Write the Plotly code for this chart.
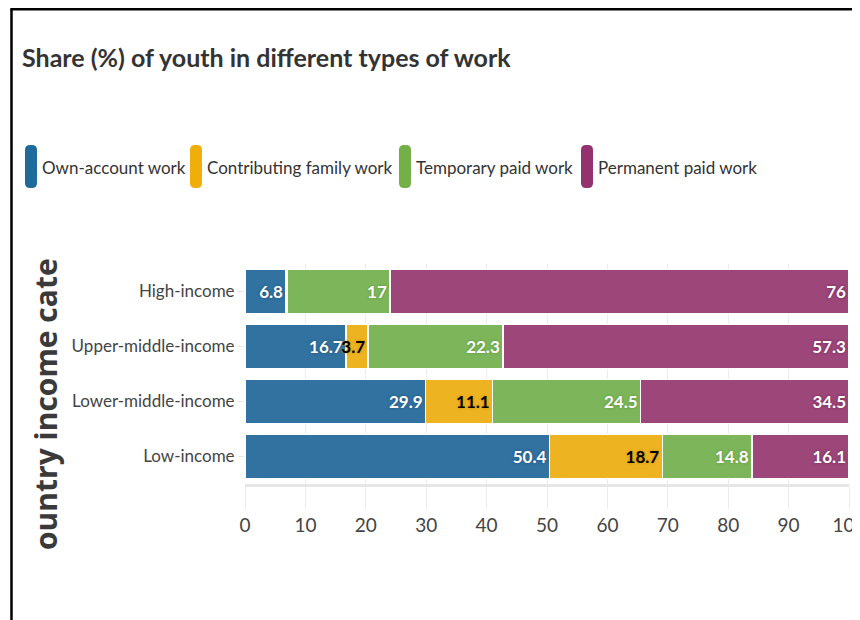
import plotly.graph_objects as go

# ---- data ----
categories = ["High-income", "Upper-middle-income", "Lower-middle-income", "Low-income"]
series_names = ["Own-account work", "Contributing family work", "Temporary paid work", "Permanent paid work"]
own_account = [6.8, 16.7, 29.9, 50.4]
contributing_family = [0.2, 3.7, 11.1, 18.7]
temporary_paid = [17, 22.3, 24.5, 14.8]
permanent_paid = [76, 57.3, 34.5, 16.1]
x_ticks = [0, 10, 20, 30, 40, 50, 60, 70, 80, 90, 100]

series_values = [own_account, contributing_family, temporary_paid, permanent_paid]
bar_colors = ["#3272A0", "#EEB320", "#7DB65A", "#9C4679"]
legend_colors = ["#1F6B9A", "#EFAE0A", "#74AF48", "#943270"]
shadow_colors = ["#1B5277", "#C68C08", "#5A8F3A", "#76264F"]
text_colors = ["white", "black", "white", "white"]

FONT = "Lato, Roboto, Liberation Sans, sans-serif"

# page body margin offsets the figure by 8px; coordinates below are reference-page pixels
OFF = 8
W, H = 852, 612
ML, MR, MT, MB = 237, 11, 256, 136
PW, PH = W - ML - MR, H - MT - MB


def px(x):
    return (x - OFF - ML) / PW


def py(y):
    return (H - MB - (y - OFF)) / PH


fig = go.Figure()
for name, vals, col, sh, tc in zip(series_names, series_values, bar_colors, shadow_colors, text_colors):
    labels = [("%g" % v) if v >= 1 else "" for v in vals]
    fig.add_trace(go.Bar(
        y=categories, x=vals, name=name, orientation="h",
        marker=dict(color=col, line=dict(color="white", width=1.5)),
        text=labels, texttemplate="%{text}",
        textposition="inside", insidetextanchor="end", textangle=0,
        constraintext="none", cliponaxis=False,
        textfont=dict(family=FONT, size=17, color=tc, weight="bold",
                      shadow=f"0px 0px 3px {sh}"),
        showlegend=False, hoverinfo="x+name",
    ))

shapes = []
# frame
shapes.append(dict(type="line", xref="paper", yref="paper", x0=px(11.5), x1=px(11.5),
                   y0=py(9.2), y1=py(640), line=dict(color="black", width=2.5)))
shapes.append(dict(type="line", xref="paper", yref="paper", x0=px(10.3), x1=px(880),
                   y0=py(9.2), y1=py(9.2), line=dict(color="black", width=2.5)))


def rounded_rect(x0, y0, x1, y1, r):
    pts = [
        f"M {px(x0 + r)},{py(y0)}",
        f"L {px(x1 - r)},{py(y0)}",
        f"Q {px(x1)},{py(y0)} {px(x1)},{py(y0 + r)}",
        f"L {px(x1)},{py(y1 - r)}",
        f"Q {px(x1)},{py(y1)} {px(x1 - r)},{py(y1)}",
        f"L {px(x0 + r)},{py(y1)}",
        f"Q {px(x0)},{py(y1)} {px(x0)},{py(y1 - r)}",
        f"L {px(x0)},{py(y0 + r)}",
        f"Q {px(x0)},{py(y0)} {px(x0 + r)},{py(y0)}",
        "Z",
    ]
    return " ".join(pts)


annotations = []
legend_x = [25, 190, 399, 581]
for lx, name, col in zip(legend_x, series_names, legend_colors):
    shapes.append(dict(type="path", xref="paper", yref="paper",
                       path=rounded_rect(lx, 145, lx + 12, 188, 5),
                       fillcolor=col, line=dict(width=0)))
    annotations.append(dict(x=px(lx + 15), y=py(167), xref="paper", yref="paper",
                            text=name, showarrow=False, xanchor="left", yanchor="middle",
                            font=dict(family=FONT, size=17, color="#333333")))

# y axis title (visible clipped part)
annotations.append(dict(x=px(45), y=py(404), xref="paper", yref="paper",
                        text="ountry income cate", showarrow=False, textangle=-90,
                        xanchor="center", yanchor="middle",
                        font=dict(family="Open Sans, DejaVu Sans, sans-serif", size=30,
                                  color="#3a3a3a", weight="bold")))

fig.update_layout(
    width=W, height=H,
    margin=dict(l=ML, r=MR, t=MT, b=MB, autoexpand=False),
    barmode="stack", bargap=0.2,
    paper_bgcolor="white", plot_bgcolor="white",
    title=dict(text="<b>Share (%) of youth in different types of work</b>",
               x=(22 - OFF) / W, xanchor="left", xref="container",
               y=1 - (58 - OFF) / H, yanchor="middle", yref="container",
               font=dict(family=FONT, size=25, color="#333333")),
    shapes=shapes, annotations=annotations,
    showlegend=False,
)
fig.update_xaxes(range=[0, 100], tickvals=x_ticks, showgrid=True, gridcolor="#ececec",
                 gridwidth=1, ticks="outside", ticklen=22, tickcolor="#ececec",
                 showline=True, linecolor="#e6e6e6", linewidth=3, zeroline=False,
                 ticklabeloverflow="allow",
                 tickfont=dict(family=FONT, size=19, color="#444444"), fixedrange=True)
fig.update_yaxes(autorange="reversed", ticks="outside", ticklen=6, tickcolor="#e6e6e6",
                 showline=False, showgrid=False,
                 tickfont=dict(family=FONT, size=17, color="#444444"), fixedrange=True)

fig.write_html("out.html")
